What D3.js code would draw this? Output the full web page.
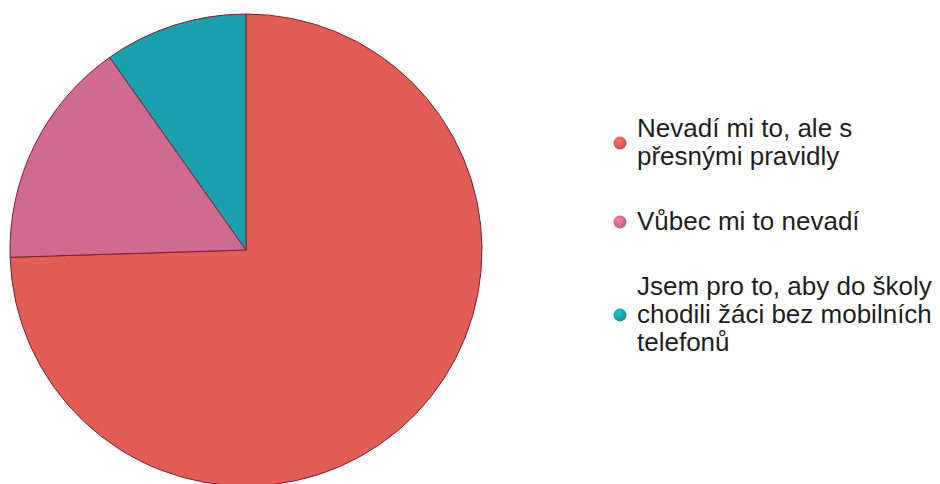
<!DOCTYPE html>
<html>
<head>
<meta charset="utf-8">
<script src="https://cdn.jsdelivr.net/npm/d3@7"></script>
<style>
  body { margin: 0; background: #fff; }
  svg { display: block; }
</style>
</head>
<body>
<script>
const width = 940
const height = 484

// answers, in drawing order (clockwise from 12 o'clock)
const categories = [
  ["Nevadí mi to, ale s", "přesnými pravidly"],
  ["Vůbec mi to nevadí"],
  ["Jsem pro to, aby do školy", "chodili žáci bez mobilních", "telefonů"]
]
const values = [38, 8, 5]
const colors = ["#e15d56", "#d16a90", "#19a0ac"]

const cx = 246, cy = 250, radius = 236

const svg = d3.select("body").append("svg")
    .attr("viewBox", [0, 0, width, height])
    .attr("width", width)
    .attr("height", height)

const pie = d3.pie().sort(null).value(d => d)
const arc = d3.arc().innerRadius(0).outerRadius(radius)

svg.append("g")
    .attr("transform", `translate(${cx},${cy})`)
  .selectAll("path")
  .data(pie(values))
  .join("path")
    .attr("fill", (d, i) => colors[i])
    .attr("stroke", "#7a1f33")
    .attr("stroke-width", 1)
    .attr("d", arc)

// legend
const lineH = 28
const legendTop = [137, 230, 295]   // baseline of first line per entry
const textX = 637

const defs = svg.append("defs")
colors.forEach((c, i) => {
  const g = defs.append("radialGradient").attr("id", "dot" + i)
      .attr("cx", "40%").attr("cy", "35%").attr("r", "65%")
  g.append("stop").attr("offset", "0%").attr("stop-color", d3.color(c).brighter(0.6))
  g.append("stop").attr("offset", "100%").attr("stop-color", d3.color(c).darker(0.4))
})

const entry = svg.append("g")
  .selectAll("g")
  .data(categories)
  .join("g")

entry.append("text")
    .attr("font-family", "'Liberation Sans', Arial, Helvetica, sans-serif")
    .attr("font-size", 26)
    .attr("fill", "#1e1e1e")
  .selectAll("tspan")
  .data((d, i) => d.map((t, j) => ({t, y: legendTop[i] + j * lineH})))
  .join("tspan")
    .attr("x", textX)
    .attr("y", d => d.y)
    .text(d => d.t)

entry.append("circle")
    .attr("cx", 620)
    .attr("cy", (d, i) => legendTop[i] + (d.length - 1) * lineH / 2 - 8)
    .attr("r", 6.5)
    .attr("fill", (d, i) => `url(#dot${i})`)
</script>
</body>
</html>
